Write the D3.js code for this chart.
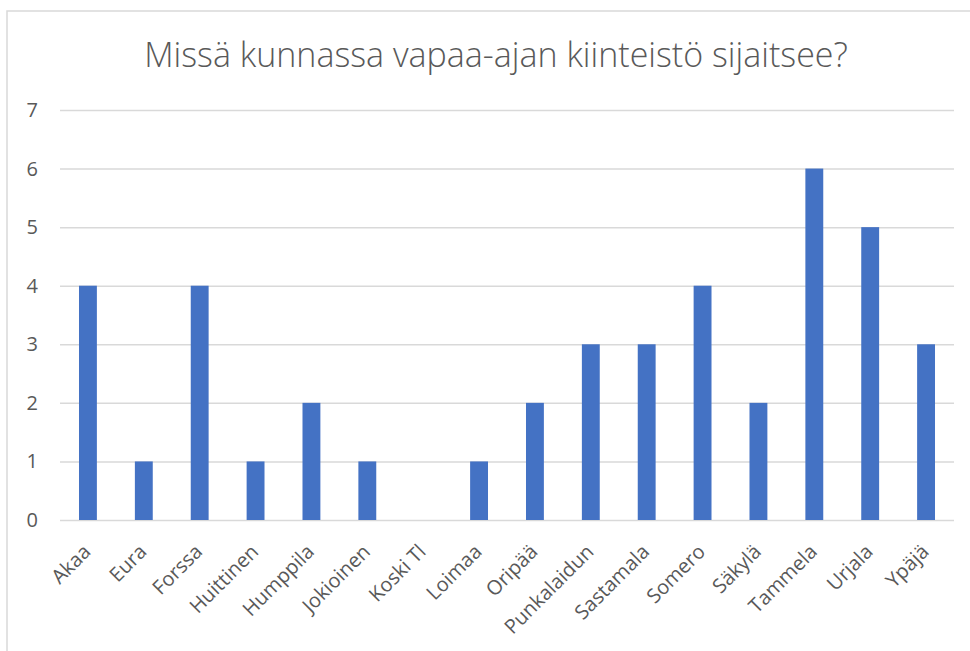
<!DOCTYPE html>
<html><head><meta charset="utf-8">
<script src="https://cdn.jsdelivr.net/npm/d3@7"></script>
<style>body{margin:0;background:#fff}svg{display:block}</style>
</head><body>
<script>
const categories = ["Akaa","Eura","Forssa","Huittinen","Humppila","Jokioinen","Koski Tl","Loimaa","Oripää","Punkalaidun","Sastamala","Somero","Säkylä","Tammela","Urjala","Ypäjä"];
const values = [4,1,4,1,2,1,0,1,2,3,3,4,2,6,5,3];
const yTicks = [0,1,2,3,4,5,6,7];
const title = "Missä kunnassa vapaa-ajan kiinteistö sijaitsee?";

const W = 970, H = 651;
const svg = d3.select("body").append("svg").attr("width", W).attr("height", H);
const font = "'Open Sans', 'Noto Sans', sans-serif";

// chart border
svg.append("path").attr("d", `M7,651 V11 H970`).attr("fill","none").attr("stroke","#d9d9d9").attr("stroke-width",1.5);

const x = d3.scaleBand().domain(categories).range([60, 954]).paddingInner(0.68).paddingOuter(0.34);
const y = d3.scaleLinear().domain([0,7]).range([520, 110]);

// gridlines
const gy = svg.append("g")
  .call(d3.axisLeft(y).tickValues(yTicks).tickSize(-(954-60)).tickFormat(""))
  .attr("transform","translate(60,0)");
gy.select(".domain").remove();
gy.selectAll(".tick line").attr("stroke","#d9d9d9").attr("stroke-width",1.5);

// y labels
svg.append("g").selectAll("text").data(yTicks).join("text")
  .attr("x", 38).attr("y", d => y(d)).attr("dy","0.35em")
  .attr("text-anchor","end").attr("font-family",font).attr("font-size",20).attr("fill","#595959")
  .text(d => d);

// bars
svg.append("g").selectAll("rect").data(categories).join("rect")
  .attr("x", d => x(d)).attr("width", x.bandwidth())
  .attr("y", (d,i) => y(values[i])).attr("height", (d,i) => y(0) - y(values[i]))
  .attr("fill","#4472C4");

// x labels
svg.append("g").selectAll("text").data(categories).join("text")
  .attr("transform", d => `translate(${x(d)+x.bandwidth()/2+4},${553}) rotate(-45)`)
  .attr("text-anchor","end").attr("font-family",font).attr("font-size",20).attr("fill","#595959")
  .text(d => d);

// title
svg.append("text").attr("x", 496).attr("y", 67).attr("text-anchor","middle")
  .attr("font-family",font).attr("font-weight",300).attr("font-size",34).attr("fill","#595959").text(title);
</script>
</body></html>
